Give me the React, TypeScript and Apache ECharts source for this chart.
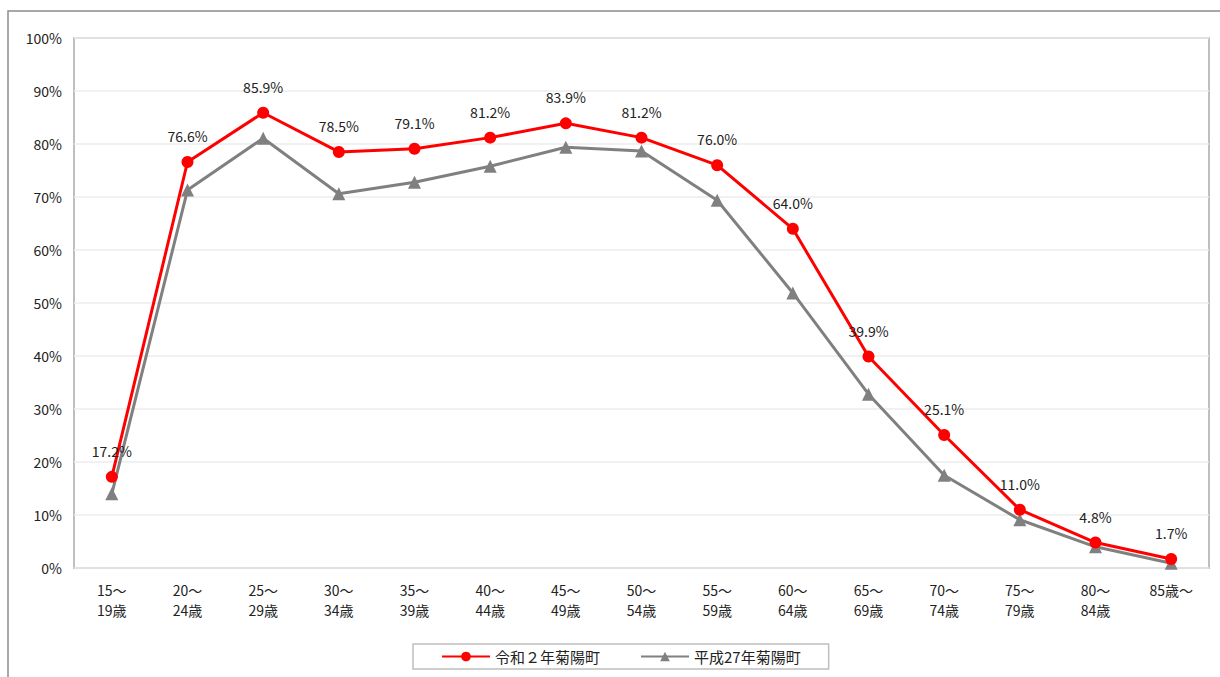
import React, { useEffect, useRef } from "react";
import * as echarts from "echarts";

const categories = [
  "15～\n19歳", "20～\n24歳", "25～\n29歳", "30～\n34歳", "35～\n39歳",
  "40～\n44歳", "45～\n49歳", "50～\n54歳", "55～\n59歳", "60～\n64歳",
  "65～\n69歳", "70～\n74歳", "75～\n79歳", "80～\n84歳", "85歳～",
];
const seriesR2Name = "令和２年菊陽町";
const seriesH27Name = "平成27年菊陽町";
const valuesR2 = [17.2, 76.6, 85.9, 78.5, 79.1, 81.2, 83.9, 81.2, 76.0, 64.0, 39.9, 25.1, 11.0, 4.8, 1.7];
const valuesH27 = [14.0, 71.3, 81.1, 70.6, 72.8, 75.8, 79.4, 78.7, 69.4, 51.9, 32.8, 17.5, 9.1, 4.0, 0.9];

const FONT = "'Noto Sans CJK JP', 'Noto Sans', sans-serif";

export default function App() {
  const ref = useRef<HTMLDivElement>(null);
  useEffect(() => {
    if (!ref.current) return;
    const chart = echarts.init(ref.current, null, { renderer: "svg" });
    chart.setOption({
      animation: false,
      backgroundColor: "#ffffff",
      textStyle: { fontFamily: FONT },
      graphic: [
        {
          type: "rect",
          shape: { x: 8, y: 11, width: 1230, height: 700 },
          style: { fill: "none", stroke: "#8c8c8c", lineWidth: 1.5 },
          silent: true,
          z: -1,
        },
      ],
      grid: {
        left: 74,
        right: 11,
        top: 38,
        bottom: 109,
        show: true,
        borderColor: "#bfbfbf",
        borderWidth: 2,
      },
      legend: {
        bottom: 8,
        left: 413,
        padding: [5, 28, 5, 28],
        borderColor: "#bfbfbf",
        borderWidth: 1.5,
        itemWidth: 48,
        itemHeight: 12,
        itemGap: 40,
        textStyle: { fontSize: 15, color: "#222", fontFamily: FONT },
        data: [seriesR2Name, seriesH27Name],
      },
      xAxis: {
        type: "category",
        data: categories,
        boundaryGap: true,
        axisLine: { show: false },
        axisTick: { show: false },
        axisLabel: {
          color: "#222",
          fontSize: 14,
          lineHeight: 20,
          margin: 12,
          fontFamily: FONT,
        },
      },
      yAxis: {
        type: "value",
        min: 0,
        max: 100,
        interval: 10,
        axisLine: { show: false },
        axisTick: { show: false },
        splitLine: { lineStyle: { color: "#ececec", width: 1.5 } },
        axisLabel: {
          formatter: (v: number) => `${v}%`,
          color: "#222",
          fontSize: 14,
          margin: 12,
          fontFamily: FONT,
        },
      },
      series: [
        {
          name: seriesR2Name,
          type: "line",
          data: valuesR2,
          symbol: "circle",
          symbolSize: 12,
          itemStyle: { color: "#ff0000" },
          lineStyle: { color: "#ff0000", width: 3 },
          z: 3,
          label: {
            show: true,
            position: "top",
            distance: 13,
            color: "#222",
            fontSize: 14,
            fontFamily: FONT,
            formatter: (p: any) => `${Number(p.value).toFixed(1)}%`,
          },
        },
        {
          name: seriesH27Name,
          type: "line",
          data: valuesH27,
          symbol: "triangle",
          symbolSize: 13,
          itemStyle: { color: "#808080" },
          lineStyle: { color: "#808080", width: 3 },
          z: 2,
        },
      ],
    });
    return () => chart.dispose();
  }, []);
  return (
    <div
      ref={ref}
      style={{ position: "fixed", left: 0, top: 0, width: 1220, height: 677 }}
    />
  );
}
